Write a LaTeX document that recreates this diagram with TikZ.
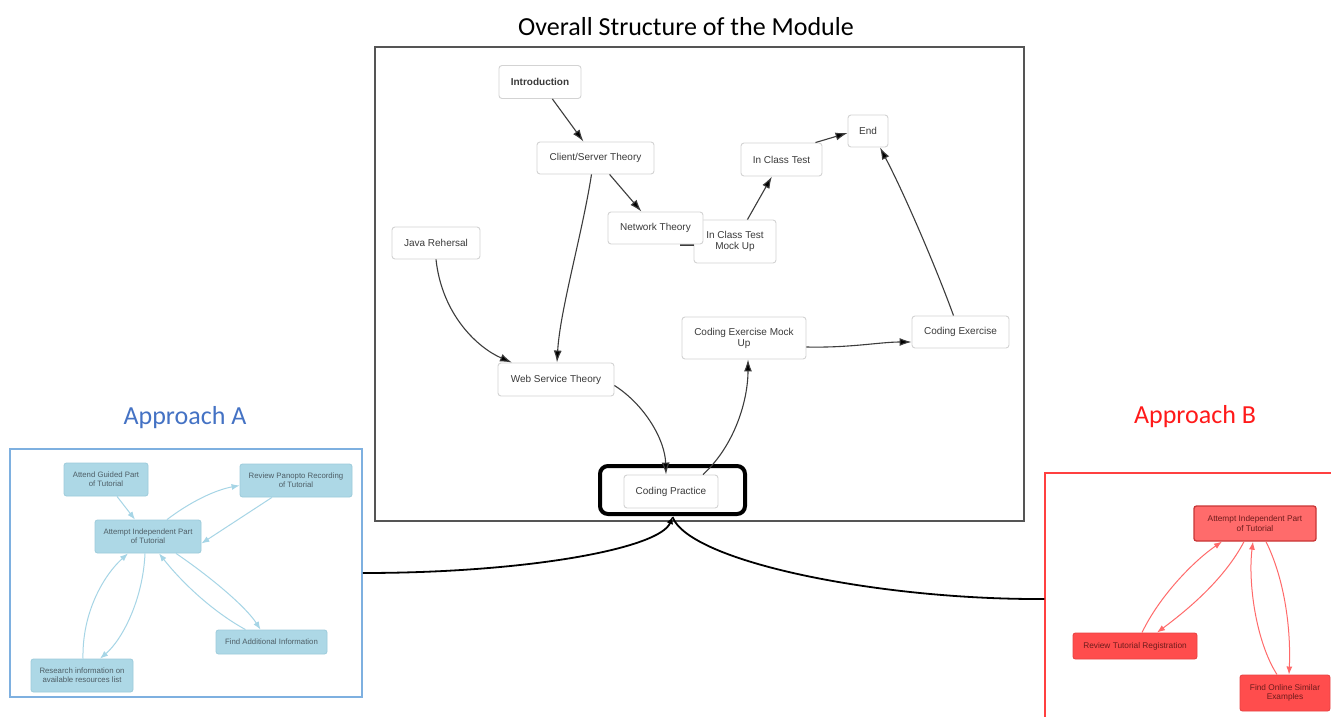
\documentclass[tikz,border=0pt]{standalone}
\usepackage{fontspec}
\setmainfont{Carlito}
\newfontfamily\arialf{Liberation Sans}
\usetikzlibrary{arrows.meta}
\definecolor{mainborder}{HTML}{555555}
\definecolor{nodeborder}{HTML}{D3D3D3}
\definecolor{nodetext}{HTML}{3A3A3A}
\definecolor{edgegray}{HTML}{3C3C3C}
\definecolor{ablue}{HTML}{4472C4}
\definecolor{aframe}{HTML}{7EB0E0}
\definecolor{afill}{HTML}{ADD8E6}
\definecolor{aborder}{HTML}{9CCBDB}
\definecolor{aedge}{HTML}{A6D5E6}
\definecolor{atext}{HTML}{4E5E66}
\definecolor{bred}{HTML}{FF1A1A}
\definecolor{bframe}{HTML}{FF4040}
\definecolor{bfill}{HTML}{FF4D4D}
\definecolor{bfilltop}{HTML}{FF6B6B}
\definecolor{bborder}{HTML}{E84444}
\definecolor{bbordertop}{HTML}{C93636}
\definecolor{bedge}{HTML}{FF6A6A}
\definecolor{btext}{HTML}{6E1C1C}
\tikzset{
  mnode/.style={draw=nodeborder, fill=white, rounded corners=3pt, line width=0.9pt,
    text=nodetext, font=\arialf\fontsize{10}{11}\selectfont, align=center, inner sep=2pt},
  medge/.style={draw=edgegray, line width=1.1pt, -{Latex[length=12pt,width=8pt,fill=black]}},
  anode/.style={draw=aborder, fill=afill, rounded corners=2.5pt, line width=0.8pt,
    text=atext, font=\arialf\fontsize{7.8}{8.6}\selectfont, align=center, inner sep=1pt},
  aedgest/.style={draw=aedge, line width=1pt, -{Latex[length=8pt,width=6pt]}},
  bnode/.style={draw=bborder, fill=bfill, rounded corners=2.5pt, line width=0.9pt,
    text=btext, font=\arialf\fontsize{8.3}{9.2}\selectfont, align=center, inner sep=1pt},
  bedgest/.style={draw=bedge, line width=1pt, -{Latex[length=8pt,width=6pt]}},
  bigedge/.style={draw=black, line width=1.8pt},
  titletext/.style={font=\fontsize{26}{30}\selectfont, inner sep=0pt}
}
\begin{document}
\begin{tikzpicture}[x=1pt,y=-1pt]
\clip (0,0) rectangle (1331,717);
\fill[white] (0,0) rectangle (1331,717);

% ---------- Titles ----------
\node[titletext, text=black] (title) at (686,27) {Overall Structure of the Module};
\node[titletext, text=ablue] (titleA) at (185,418) {Approach A};
\node[titletext, text=bred] (titleB) at (1195,417) {Approach B};

% ---------- Main frame ----------
\node[draw=mainborder, line width=1.8pt, minimum width=649pt, minimum height=474pt, inner sep=0pt] (mainbox) at (699.5,284) {};

% ---------- Main nodes ----------
\node[mnode, minimum width=82pt, minimum height=33pt, font=\arialf\bfseries\fontsize{10}{11}\selectfont] (intro) at (540,82) {Introduction};
\node[mnode, minimum width=117pt, minimum height=32pt] (cs) at (595.5,158) {Client/Server Theory};
\node[mnode, minimum width=82pt, minimum height=43pt] (mock) at (735,241.5) {In Class Test\\Mock Up};
\coordinate (netmock) at (680,245);
\draw[draw=edgegray, line width=1.1pt] (netmock) -- (mock.west |- netmock);
\node[mnode, minimum width=95pt, minimum height=32pt] (net) at (655.5,228) {Network Theory};
\node[mnode, minimum width=81pt, minimum height=33pt] (ict) at (781.5,159.5) {In Class Test};
\node[mnode, minimum width=40pt, minimum height=32pt] (end) at (868,131) {End};
\node[mnode, minimum width=88pt, minimum height=32pt] (java) at (436,243) {Java Rehersal};
\node[mnode, minimum width=116pt, minimum height=33pt] (ws) at (556,379.5) {Web Service Theory};
\node[mnode, minimum width=124pt, minimum height=42pt] (cem) at (744,338) {Coding Exercise Mock\\Up};
\node[mnode, minimum width=97pt, minimum height=32pt] (ce) at (960.5,332) {Coding Exercise};
\node[mnode, minimum width=94pt, minimum height=33pt] (cp) at (671,491.5) {Coding Practice};
\node[draw=black, line width=4pt, rounded corners=8pt, minimum width=145pt, minimum height=48pt, inner sep=0pt] (hl) at (672.5,490) {};

% ---------- Main edges ----------
\draw[medge] (intro) -- (cs);
\draw[medge] (cs) -- (net);
\draw[medge] (mock) -- (ict);
\draw[medge] ([xshift=-7pt]ict.north east) -- ([yshift=-2pt]end.west);
\draw[medge] ([xshift=-7pt]ce.north) .. controls (937,270) and (905,195) .. ([xshift=12pt]end.south);
\draw[medge] ([xshift=-4pt]cs.south) .. controls (582,235) and (560,310) .. ([xshift=1pt]ws.north);
\draw[medge] (java.south) .. controls (442,315) and (478,348) .. ([xshift=-44pt]ws.north);
\draw[medge] ([yshift=-6pt]ws.east) .. controls (645,405) and (665,440) .. ([xshift=-5pt]cp.north);
\draw[medge] ([xshift=32pt]cp.north) .. controls (735,445) and (748,400) .. ([xshift=4pt]cem.south);
\draw[medge] ([yshift=-9pt]cem.east) .. controls (850,348) and (880,342) .. ([yshift=-10pt]ce.west);

% ---------- Approach A ----------
\node[draw=aframe, line width=1.5pt, minimum width=352pt, minimum height=248pt, inner sep=0pt] (boxA) at (186,573) {};
\node[anode, minimum width=84pt, minimum height=33pt] (att) at (106,479.5) {Attend Guided Part\\of Tutorial};
\node[anode, minimum width=112pt, minimum height=33pt] (rev) at (296,480.5) {Review Panopto Recording\\of Tutorial};
\node[anode, minimum width=106pt, minimum height=33pt] (atp) at (148,536.5) {Attempt Independent Part\\of Tutorial};
\node[anode, minimum width=111pt, minimum height=24pt] (find) at (271.5,642) {Find Additional Information};
\node[anode, minimum width=102pt, minimum height=33pt] (res) at (82,675.5) {Research information on\\available resources list};

\draw[aedgest] ([xshift=11pt]att.south) -- ([xshift=-13pt]atp.north);
\draw[aedgest] ([xshift=19pt]atp.north) .. controls (190,502) and (215,490) .. ([yshift=-5pt]rev.west);
\draw[aedgest] ([xshift=-24pt]rev.south) -- ([yshift=-7pt]atp.east);
\draw[aedgest] ([xshift=28pt]atp.south) .. controls (212,578) and (246,607) .. ([xshift=-11pt]find.north);
\draw[aedgest] ([xshift=-26pt]find.north) .. controls (210,610) and (180,580) .. ([xshift=11pt]atp.south);
\draw[aedgest] ([xshift=-3pt]atp.south) .. controls (143,600) and (122,640) .. ([xshift=18pt]res.north);
\draw[aedgest] ([xshift=1pt]res.north) .. controls (82,612) and (104,575) .. ([xshift=-20pt]atp.south);

% ---------- Approach B ----------
\node[draw=bframe, line width=1.5pt, minimum width=300pt, minimum height=252pt, inner sep=0pt] (boxB) at (1195,599) {};
\node[bnode, fill=bfilltop, draw=bbordertop, line width=1.3pt, minimum width=122pt, minimum height=35pt] (aip) at (1255,523.5) {Attempt Independent Part\\of Tutorial};
\node[bnode, minimum width=124pt, minimum height=26pt] (rtr) at (1135,646) {Review Tutorial Registration};
\node[bnode, minimum width=90pt, minimum height=36pt] (fos) at (1285,693) {Find Online Similar\\Examples};

\draw[bedgest] ([xshift=7pt]rtr.north) .. controls (1160,595) and (1195,560) .. ([xshift=-33pt]aip.south);
\draw[bedgest] ([xshift=-11pt]aip.south) .. controls (1225,578) and (1190,608) .. ([xshift=22pt]rtr.north);
\draw[bedgest] ([xshift=-8pt]fos.north) .. controls (1255,640) and (1248,580) .. ([xshift=-2pt]aip.south);
\draw[bedgest] ([xshift=11pt]aip.south) .. controls (1285,580) and (1291,630) .. ([xshift=4pt]fos.north);

% ---------- Connectors from the approaches ----------
\coordinate (tip) at ([yshift=-1pt]hl.south);
\draw[bigedge, -{Latex[length=7pt,width=7pt]}] (boxA.east) .. controls (530,573) and (660,548) .. (tip);
\draw[bigedge] (boxB.west) .. controls (880,600) and (690,562) .. (tip);
\end{tikzpicture}
\end{document}
